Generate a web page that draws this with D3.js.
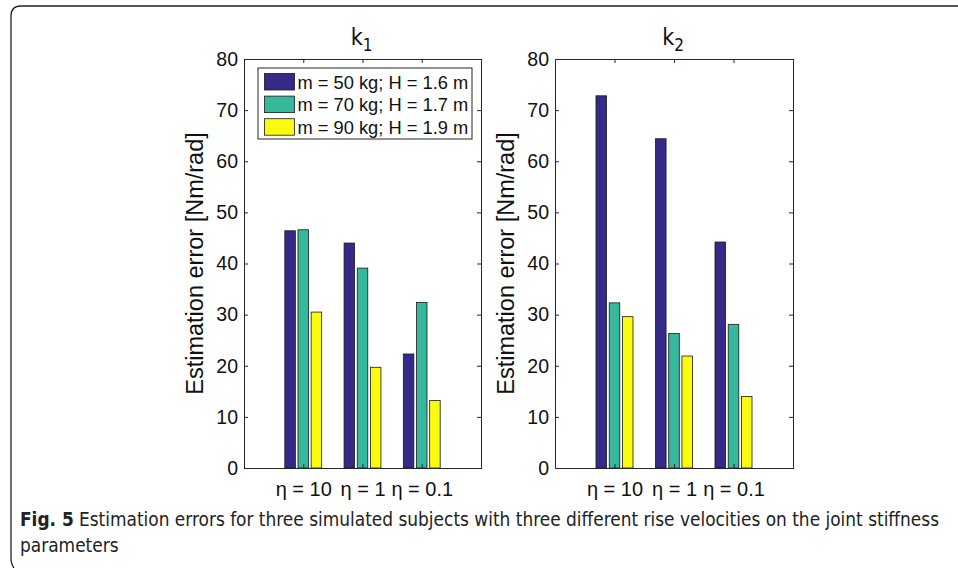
<!DOCTYPE html>
<html>
<head>
<meta charset="utf-8">
<script src="https://cdn.jsdelivr.net/npm/d3@7"></script>
<style>
html,body{margin:0;padding:0;background:#fff;}
svg{display:block;}
</style>
</head>
<body>
<svg id="chart" width="958" height="568"></svg>
<script>
const categories = ["η = 10", "η = 1", "η = 0.1"];
const seriesNames = ["m = 50 kg; H = 1.6 m", "m = 70 kg; H = 1.7 m", "m = 90 kg; H = 1.9 m"];
const seriesColors = ["#352a87", "#36b89c", "#f9fb0e"];
const k1Values = [
  [46.4, 44.0, 22.3],
  [46.6, 39.1, 32.4],
  [30.5, 19.7, 13.2]
];
const k2Values = [
  [72.8, 64.4, 44.2],
  [32.3, 26.3, 28.1],
  [29.6, 21.9, 14.0]
];
const yTicks = [0, 10, 20, 30, 40, 50, 60, 70, 80];
const panelTitles = [["k", "1"], ["k", "2"]];
const yLabel = "Estimation error [Nm/rad]";
const captionBold = "Fig. 5";
const captionLine1 = "Estimation errors for three simulated subjects with three different rise velocities on the joint stiffness";
const captionLine2 = "parameters";

const svg = d3.select("#chart");
const FONT = "'Liberation Sans', Arial, Helvetica, sans-serif";
const CAPFONT = "'Liberation Sans Narrow', 'DejaVu Sans Condensed', 'Open Sans', sans-serif";

// frame
svg.append("path")
  .attr("d", "M958,6 L21,6 Q11,6 11,16 L11,558 Q11,564 14,568")
  .attr("fill", "none").attr("stroke", "#222").attr("stroke-width", 1.3);

const panels = [
  {x0: 244, x1: 481, values: k1Values, title: panelTitles[0], legend: true},
  {x0: 555, x1: 793, values: k2Values, title: panelTitles[1], legend: false}
];
const yTop = 59, yBot = 468;

panels.forEach(p => {
  const g = svg.append("g");
  const x = d3.scaleLinear().domain([0, 4]).range([p.x0, p.x1]);
  const y = d3.scaleLinear().domain([0, 80]).range([yBot, yTop]);

  // bars (MATLAB grouped layout)
  const groupW = Math.min(0.8, 3 / (3 + 1.5));
  const step = groupW / 3;
  const bw = step * 0.8;
  p.values.forEach((vals, s) => {
    g.selectAll(null).data(vals).enter().append("rect")
      .attr("x", (d, i) => x(i + 1 - groupW / 2 + step * s + (step - bw) / 2))
      .attr("width", x(bw) - x(0))
      .attr("y", d => y(d))
      .attr("height", d => y(0) - y(d))
      .attr("fill", seriesColors[s])
      .attr("stroke", "#1a1a1a").attr("stroke-width", 0.8);
  });

  // axes
  const axL = d3.axisLeft(y).tickValues(yTicks).tickSize(-4).tickPadding(6).tickFormat(d => d);
  const axR = d3.axisRight(y).tickValues(yTicks).tickSize(-4).tickFormat("");
  const axB = d3.axisBottom(x).tickValues([1, 2, 3]).tickSize(-4).tickFormat((d) => categories[d - 1]);
  const axT = d3.axisTop(x).tickValues([1, 2, 3]).tickSize(-4).tickFormat("");
  const gL = g.append("g").attr("transform", `translate(${p.x0},0)`).call(axL);
  const gR = g.append("g").attr("transform", `translate(${p.x1},0)`).call(axR);
  const gB = g.append("g").attr("transform", `translate(0,${yBot})`).call(axB);
  const gT = g.append("g").attr("transform", `translate(0,${yTop})`).call(axT);
  [gL, gR, gB, gT].forEach(a => {
    a.select(".domain").attr("stroke", "#262626").attr("stroke-width", 1);
    a.selectAll(".tick line").attr("stroke", "#262626");
    a.selectAll("text").attr("fill", "#111").style("font-family", FONT).style("font-size", "20px");
  });
  gL.selectAll("text").style("font-size", "19.5px");
  gB.selectAll("text").attr("y", 28).attr("dy", 0);

  // y label
  g.append("text")
    .attr("transform", `translate(${p.x0 - 41},${(yTop + yBot) / 2}) rotate(-90)`)
    .attr("text-anchor", "middle")
    .style("font-family", FONT).style("font-size", "23.5px").attr("fill", "#111")
    .text(yLabel);

  // title
  const t = g.append("text")
    .attr("x", (p.x0 + p.x1) / 2 - 1).attr("y", 45)
    .attr("text-anchor", "middle")
    .style("font-family", CAPFONT).style("font-size", "23px").attr("fill", "#111");
  t.append("tspan").text(p.title[0]);
  t.append("tspan").attr("dy", 6).style("font-size", "17px").text(p.title[1]);

  // legend
  if (p.legend) {
    const lg = g.append("g");
    lg.append("rect").attr("x", 258).attr("y", 68).attr("width", 214).attr("height", 71)
      .attr("fill", "#fff").attr("stroke", "#262626").attr("stroke-width", 1);
    seriesNames.forEach((n, i) => {
      lg.append("rect").attr("x", 264.5).attr("y", 73.5 + i * 22.6).attr("width", 30).attr("height", 16.5)
        .attr("fill", seriesColors[i]).attr("stroke", "#1a1a1a").attr("stroke-width", 0.8);
      lg.append("text").attr("x", 297.5).attr("y", 88.5 + i * 22.6)
        .style("font-family", FONT).style("font-size", "18.3px").attr("fill", "#111")
        .text(n);
    });
  }
});

// caption (condensed horizontally to the reference width)
const capBold = svg.append("text").attr("x", 20).attr("y", 526)
  .style("font-family", CAPFONT).style("font-size", "19px").style("font-weight", "bold").attr("fill", "#222")
  .text(captionBold);
const cap1 = svg.append("text").attr("x", 79).attr("y", 526)
  .style("font-family", CAPFONT).style("font-size", "19px").attr("fill", "#222")
  .text(captionLine1);
const cap2 = svg.append("text").attr("x", 20).attr("y", 552)
  .style("font-family", CAPFONT).style("font-size", "19px").attr("fill", "#222")
  .text(captionLine2);
const scale = 860 / cap1.node().getComputedTextLength();
[capBold, cap1, cap2].forEach(c => {
  c.attr("textLength", c.node().getComputedTextLength() * scale).attr("lengthAdjust", "spacingAndGlyphs");
});
</script>
</body>
</html>
